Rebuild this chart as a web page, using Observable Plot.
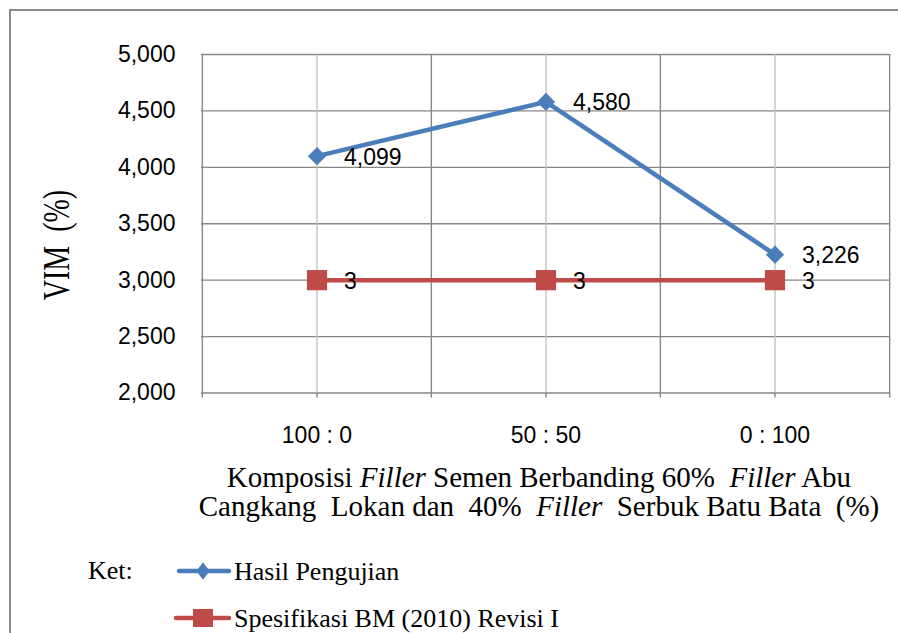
<!DOCTYPE html>
<html><head><meta charset="utf-8">
<script src="https://cdn.jsdelivr.net/npm/d3@7"></script>
<script src="https://cdn.jsdelivr.net/npm/@observablehq/plot@0.6"></script>
<style>
html,body{margin:0;padding:0;background:#fff;}
#wrap{position:relative;width:898px;height:633px;overflow:hidden;background:#fff;}
#wrap > svg{position:absolute;left:0;top:0;}
#wrap text{white-space:pre;}
#frame{position:absolute;left:9px;top:9px;width:1000px;height:1000px;border-left:2.5px solid #898989;border-top:2.5px solid #898989;pointer-events:none;}
</style></head><body><div id="wrap"></div>
<script>
// ---- data ----
const categories = ["100 : 0", "50 : 50", "0 : 100"];
const hasilPengujian = [4.099, 4.580, 3.226];
const spesifikasi = [3, 3, 3];
const yTicks = [2, 2.5, 3, 3.5, 4, 4.5, 5];
const seriesNames = ["Hasil Pengujian", "Spesifikasi BM (2010) Revisi I"];
const yTitle = "VIM  (%)";
const legendLead = "Ket:";

// ---- layout ----
const W = 898, H = 633, mL = 201, mR = 9, mT = 54, mB = 240.5;
const bw = (W - mL - mR) / categories.length;
const fmt = v => d3.format(".3f")(v).replace(".", ",");
const blue = "#4A7EBB", red = "#BE4B48", gridDark = "#878787", gridLight = "#c3c3c3";

const hasil = categories.map((c, i) => ({cat: c, v: hasilPengujian[i], label: fmt(hasilPengujian[i])}));
const spek = categories.map((c, i) => ({cat: c, v: spesifikasi[i], label: String(spesifikasi[i])}));

const plot = Plot.plot({
  width: W, height: H,
  marginLeft: mL, marginRight: mR, marginTop: mT, marginBottom: mB,
  style: {fontFamily: "'Liberation Sans', Arial, sans-serif", fontSize: "23px", color: "#000", background: "transparent", overflow: "visible"},
  x: {type: "band", domain: categories, padding: 0},
  y: {domain: [2, 5]},
  marks: [
    Plot.gridY(yTicks, {stroke: gridDark, strokeOpacity: 1, strokeWidth: 1.4}),
    Plot.ruleX(categories, {stroke: gridLight, strokeWidth: 1.4}),
    Plot.ruleX(categories, {dx: -bw / 2, stroke: gridDark, strokeWidth: 1.4, insetBottom: -5}),
    Plot.ruleX(categories.slice(-1), {dx: bw / 2, stroke: gridDark, strokeWidth: 1.4, insetBottom: -5}),
    Plot.axisX({tickSize: 5, tickPadding: 29, stroke: gridDark, strokeWidth: 1.4, label: null, fontSize: 23}),
    Plot.axisY(yTicks, {tickSize: 0, tickPadding: 26, tickFormat: fmt, label: null, fontSize: 23}),
    Plot.line(hasil, {x: "cat", y: "v", stroke: blue, strokeWidth: 4.5}),
    Plot.dot(hasil, {x: "cat", y: "v", symbol: "diamond2", r: 8.2, fill: blue, stroke: null}),
    Plot.line(spek, {x: "cat", y: "v", stroke: red, strokeWidth: 4.5}),
    Plot.dot(spek, {x: "cat", y: "v", symbol: "square", r: 11.4, fill: red, stroke: null}),
    Plot.text(hasil, {x: "cat", y: "v", text: "label", dx: 27, dy: 1, textAnchor: "start", fontSize: 23, fill: "#000"}),
    Plot.text(spek, {x: "cat", y: "v", text: "label", dx: 27, dy: 1, textAnchor: "start", fontSize: 23, fill: "#000"})
  ]
});
const wrap = document.getElementById("wrap");
wrap.appendChild(plot);

// ---- titles and legend ----
const ov = d3.select(wrap).append("svg").attr("width", W).attr("height", H)
  .style("font-family", "'Liberation Serif', 'Times New Roman', serif");

ov.append("text").attr("xml:space", "preserve").attr("transform", "translate(69,245) scale(1.35,1) rotate(-90)")
  .attr("text-anchor", "middle").attr("font-size", 28)
  .text(yTitle);

const l1 = ov.append("text").attr("xml:space", "preserve").attr("x", 539).attr("y", 487).attr("text-anchor", "middle")
  .attr("font-size", 29);
l1.append("tspan").text("Komposisi ");
l1.append("tspan").attr("font-style", "italic").text("Filler");
l1.append("tspan").text(" Semen Berbanding 60%  ");
l1.append("tspan").attr("font-style", "italic").text("Filler");
l1.append("tspan").text(" Abu");

const l2 = ov.append("text").attr("xml:space", "preserve").attr("x", 539).attr("y", 516).attr("text-anchor", "middle")
  .attr("font-size", 29);
l2.append("tspan").text("Cangkang  Lokan dan  40%  ");
l2.append("tspan").attr("font-style", "italic").text("Filler");
l2.append("tspan").text("  Serbuk Batu Bata  (%)");

ov.append("text").attr("x", 88).attr("y", 579).attr("font-size", 26).text(legendLead);

const legendRows = [
  {name: seriesNames[0], color: blue, y: 571, x0: 179, sym: "diamond"},
  {name: seriesNames[1], color: red, y: 618, x0: 176, sym: "square"}
];
legendRows.forEach(r => {
  ov.append("line").attr("x1", r.x0).attr("x2", 229).attr("y1", r.y).attr("y2", r.y)
    .attr("stroke", r.color).attr("stroke-width", 4.5).attr("stroke-linecap", "round");
  if (r.sym === "diamond") {
    ov.append("path").attr("transform", `translate(203,${r.y}) scale(0.75,1)`)
      .attr("d", d3.symbol(d3.symbolDiamond2, 200)()).attr("fill", r.color);
  } else {
    ov.append("rect").attr("x", 193).attr("y", r.y - 9).attr("width", 20).attr("height", 18).attr("fill", r.color);
  }
  ov.append("text").attr("x", 234).attr("y", r.y + 8.5).attr("font-size", 26).text(r.name);
});

const frame = document.createElement("div");
frame.id = "frame";
wrap.appendChild(frame);
</script></body></html>
